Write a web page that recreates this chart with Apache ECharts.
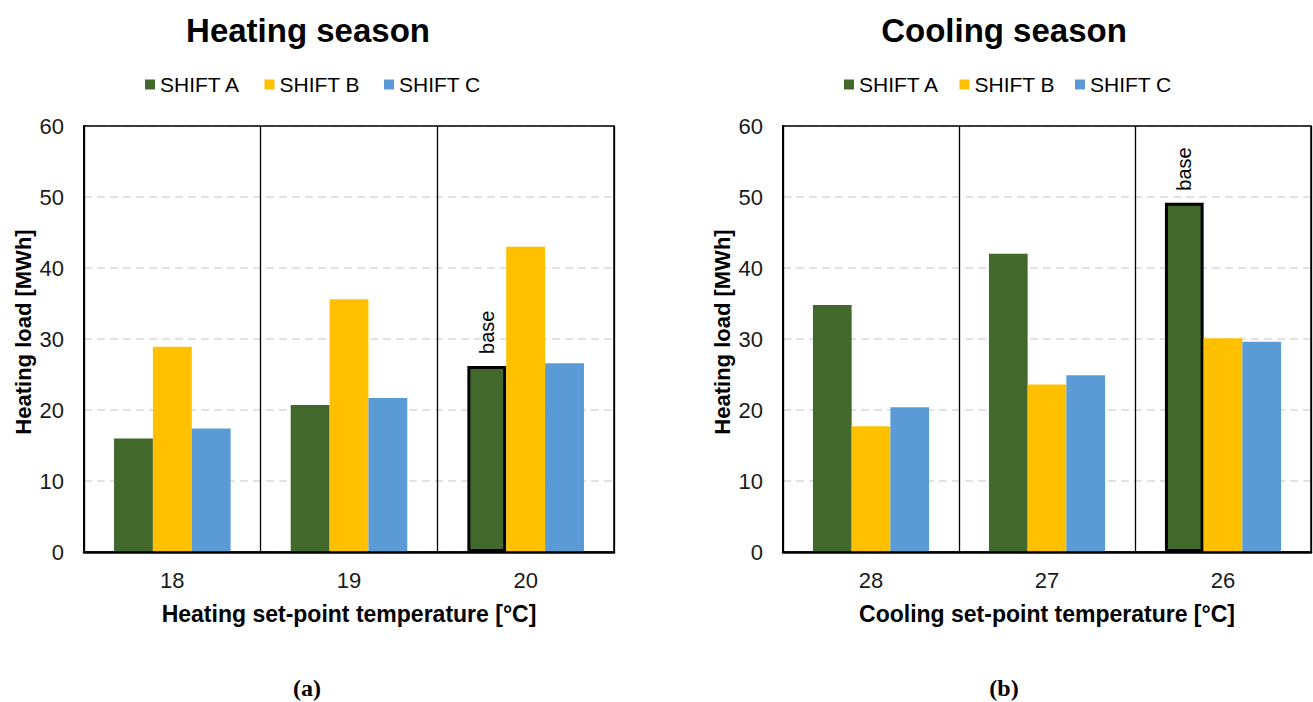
<!DOCTYPE html>
<html>
<head>
<meta charset="utf-8">
<script src="https://cdn.jsdelivr.net/npm/echarts@6/dist/echarts.min.js"></script>
<style>
html,body{margin:0;padding:0;background:#fff;}
#chart{width:1313px;height:702px;}
</style>
</head>
<body>
<div id="chart"></div>
<script>
// ---- data ----
const heatingCategories = ['18', '19', '20'];
const coolingCategories = ['28', '27', '26'];
const seriesNames = ['SHIFT A', 'SHIFT B', 'SHIFT C'];
const heatingShiftA = [16.0, 20.7, 26.2];
const heatingShiftB = [28.9, 35.6, 43.0];
const heatingShiftC = [17.4, 21.7, 26.6];
const coolingShiftA = [34.8, 42.0, 49.2];
const coolingShiftB = [17.7, 23.6, 30.1];
const coolingShiftC = [20.4, 24.9, 29.6];
const yMin = 0, yMax = 60, yInterval = 10;
const baseLabel = 'base';
const heatingBaseIndex = 2;
const coolingBaseIndex = 2;

// ---- styles ----
const colors = ['#43682b', '#ffc000', '#5b9bd5'];
const FONT = '"Liberation Sans", Arial, sans-serif';
const SERIF = '"Liberation Serif", "DejaVu Serif", serif';

function withBase(values, baseIdx) {
  return values.map((v, i) => i === baseIdx ? {
    value: v,
    itemStyle: { borderColor: '#000', borderWidth: 3 },
    label: {
      show: true, formatter: baseLabel, position: 'top', rotate: 90,
      align: 'left', verticalAlign: 'middle', distance: 12,
      fontSize: 20, color: '#000', fontFamily: FONT
    }
  } : v);
}

function barSeries(name, data, idx, color) {
  return {
    type: 'bar', name: name, data: data,
    xAxisIndex: idx, yAxisIndex: idx,
    barGap: '0%', barCategoryGap: '34%',
    itemStyle: { color: color },
    emphasis: { disabled: true },
    animation: false
  };
}

function xAxis(idx, cats, name) {
  return {
    type: 'category', gridIndex: idx, data: cats,
    name: name, nameLocation: 'middle', nameGap: 50,
    nameTextStyle: { fontSize: 23, fontWeight: 'bold', color: '#000', fontFamily: FONT },
    axisLine: { show: true, lineStyle: { color: '#000', width: 2.5 } },
    axisTick: { show: false },
    axisLabel: { fontSize: 22, color: '#1a1a1a', margin: 17, fontFamily: FONT },
    splitLine: { show: true, lineStyle: { color: '#000', width: 1.3 } }
  };
}

function yAxis(idx) {
  return {
    type: 'value', gridIndex: idx, min: yMin, max: yMax, interval: yInterval,
    name: 'Heating load [MWh]', nameLocation: 'middle', nameGap: 50,
    nameTextStyle: { fontSize: 22, fontWeight: 'bold', color: '#000', fontFamily: FONT, padding: [0, 0, 0, 14] },
    axisLine: { show: true, lineStyle: { color: '#000', width: 2 } },
    axisTick: { show: false },
    axisLabel: { fontSize: 22, color: '#1a1a1a', margin: 20, fontFamily: FONT },
    splitLine: { show: true, lineStyle: { color: '#d9d9d9', width: 1.5, type: [8, 5] } }
  };
}

function subCaption(letter, x) {
  return {
    text: '({b|' + letter + '})', left: x, top: 675, padding: 0, textAlign: 'center',
    textStyle: { fontSize: 24, lineHeight: 25, color: '#000', fontFamily: SERIF,
      rich: { b: { fontSize: 24, lineHeight: 25, fontWeight: 'bold', color: '#000', fontFamily: SERIF } } }
  };
}

const chart = echarts.init(document.getElementById('chart'), null, { renderer: 'svg' });
chart.setOption({
  animation: false,
  backgroundColor: '#fff',
  color: colors,
  title: [
    { text: 'Heating season', left: 303, top: 9, textAlign: 'center',
      textStyle: { fontSize: 33, fontWeight: 'bold', color: '#000', fontFamily: FONT } },
    { text: 'Cooling season', left: 999, top: 9, textAlign: 'center',
      textStyle: { fontSize: 33, fontWeight: 'bold', color: '#000', fontFamily: FONT } },
    subCaption('a', 307),
    subCaption('b', 1004)
  ],
  legend: [
    { data: seriesNames, left: 140, top: 69, itemWidth: 10, itemHeight: 10, itemGap: 24,
      icon: 'rect', textStyle: { fontSize: 21, color: '#000', fontFamily: FONT } },
    { data: seriesNames, left: 839, top: 69, itemWidth: 10, itemHeight: 10, itemGap: 20,
      icon: 'rect', textStyle: { fontSize: 21, color: '#000', fontFamily: FONT } }
  ],
  grid: [
    { left: 84, right: 699, top: 126, bottom: 150, show: true, z: 10, borderColor: '#000', borderWidth: 1.5, backgroundColor: 'transparent' },
    { left: 783, right: 2, top: 126, bottom: 150, show: true, z: 10, borderColor: '#000', borderWidth: 1.5, backgroundColor: 'transparent' }
  ],
  xAxis: [
    xAxis(0, heatingCategories, 'Heating set-point temperature [°C]'),
    xAxis(1, coolingCategories, 'Cooling set-point temperature [°C]')
  ],
  yAxis: [yAxis(0), yAxis(1)],
  series: [
    barSeries(seriesNames[0], withBase(heatingShiftA, heatingBaseIndex), 0, colors[0]),
    barSeries(seriesNames[1], heatingShiftB, 0, colors[1]),
    barSeries(seriesNames[2], heatingShiftC, 0, colors[2]),
    barSeries(seriesNames[0], withBase(coolingShiftA, coolingBaseIndex), 1, colors[0]),
    barSeries(seriesNames[1], coolingShiftB, 1, colors[1]),
    barSeries(seriesNames[2], coolingShiftC, 1, colors[2])
  ]
});
</script>
</body>
</html>
